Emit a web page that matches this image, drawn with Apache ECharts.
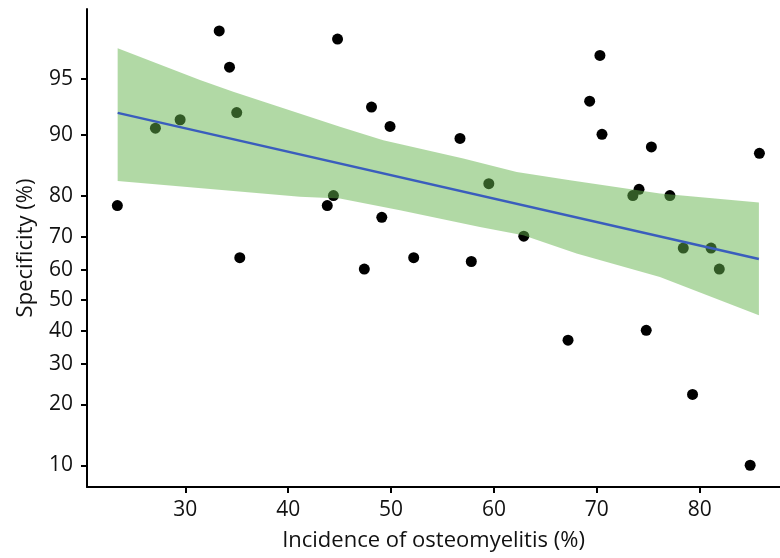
<!DOCTYPE html>
<html>
<head>
<meta charset="utf-8">
<script src="https://cdn.jsdelivr.net/npm/echarts@6/dist/echarts.min.js"></script>
<style>html,body{margin:0;padding:0;background:#fff}#c{width:780px;height:558px}</style>
</head>
<body>
<div id="c"></div>
<script>
// ---- data (specificity in %) ----
var pointsX = [23.4, 27.1, 29.5, 33.3, 34.3, 35.0, 35.3, 44.8, 43.8, 44.4, 47.4, 48.1, 49.1, 49.9, 56.7, 59.5, 62.9, 52.2, 57.8, 70.3, 69.3, 70.5, 75.3, 85.8, 74.1, 73.5, 77.1, 78.4, 81.1, 81.9, 67.2, 74.8, 79.3, 84.9];
var pointsY = [77.9, 90.8, 91.7, 97.3, 95.7, 92.4, 63.8, 97.0, 77.9, 80.1, 60.2, 92.9, 75.1, 91.0, 89.6, 82.5, 70.1, 63.8, 62.6, 96.3, 93.4, 90.1, 88.5, 87.6, 81.4, 80.1, 80.1, 66.7, 66.7, 60.2, 37.0, 40.1, 22.2, 10.0];
var fitX = [23.43, 85.75];
var fitY = [92.37, 63.4];
var bandUpperX = [23.43, 31.43, 34.66, 45.03, 49.24, 57.02, 62.21, 67.39, 76.13, 85.75];
var bandUpperY = [96.62, 94.93, 94.13, 90.95, 89.38, 86.84, 84.66, 83.17, 80.55, 78.60];
var bandLowerX = [23.43, 41.15, 45.03, 50.87, 58.64, 62.85, 68.03, 76.13, 85.75];
var bandLowerY = [83.04, 79.83, 79.48, 76.82, 72.63, 70.38, 65.07, 57.69, 45.02];
var xTicks = [30, 40, 50, 60, 70, 80];
var yTicks = [10, 20, 30, 40, 50, 60, 70, 80, 90, 95];

function logit(p) { p = p / 100; return Math.log(p / (1 - p)); }
function pct(v) { return 100 / (1 + Math.exp(-v)); }

var yTickVals = yTicks.map(logit);
var scatterData = pointsX.map(function (x, i) { return [x, logit(pointsY[i])]; });
var fitData = fitX.map(function (x, i) { return [x, logit(fitY[i])]; });

var FONT = 'Open Sans';
var chart = echarts.init(document.getElementById('c'), null, { renderer: 'canvas' });
chart.setOption({
  animation: false,
  backgroundColor: '#fff',
  grid: { left: 87, right: 0, top: 9, bottom: 71, containLabel: false, outerBoundsMode: 'none' },
  xAxis: {
    type: 'value', min: 20.45, max: 87.8,
    name: 'Incidence of osteomyelitis (%)', nameLocation: 'middle', nameGap: 43,
    nameTextStyle: { fontFamily: FONT, fontSize: 22, color: '#111' },
    splitLine: { show: false },
    axisLine: { show: true, onZero: false, lineStyle: { color: '#000', width: 2 } },
    axisTick: { show: true, length: 6, lineStyle: { color: '#000', width: 2 }, customValues: xTicks },
    axisLabel: { margin: 13, fontFamily: FONT, fontSize: 21, color: '#111', customValues: xTicks }
  },
  yAxis: {
    type: 'value', min: logit(7.68), max: logit(97.97),
    name: 'Specificity (%)', nameLocation: 'middle', nameGap: 50, nameRotate: 90,
    nameTextStyle: { fontFamily: FONT, fontSize: 22, color: '#111' },
    splitLine: { show: false },
    axisLine: { show: true, onZero: false, lineStyle: { color: '#000', width: 2 } },
    axisTick: { show: true, length: 6, lineStyle: { color: '#000', width: 2 }, customValues: yTickVals },
    axisLabel: {
      margin: 14, fontFamily: FONT, fontSize: 21, color: '#111', customValues: yTickVals,
      formatter: function (v) { return String(Math.round(pct(v))); }
    }
  },
  series: [
    {
      type: 'scatter', z: 1, symbolSize: 11,
      itemStyle: { color: '#000', opacity: 1 },
      data: scatterData
    },
    {
      type: 'custom', z: 2, silent: true,
      data: [[bandUpperX[0], logit(bandUpperY[0])]],
      renderItem: function (params, api) {
        var pts = [];
        for (var i = 0; i < bandUpperX.length; i++) pts.push(api.coord([bandUpperX[i], logit(bandUpperY[i])]));
        for (var j = bandLowerX.length - 1; j >= 0; j--) pts.push(api.coord([bandLowerX[j], logit(bandLowerY[j])]));
        return { type: 'polygon', shape: { points: pts }, style: { fill: 'rgba(100,180,75,0.5)' } };
      }
    },
    {
      type: 'line', z: 3, symbol: 'none',
      lineStyle: { color: '#3a5dbd', width: 2.5 },
      data: fitData
    }
  ]
});
</script>
</body>
</html>
